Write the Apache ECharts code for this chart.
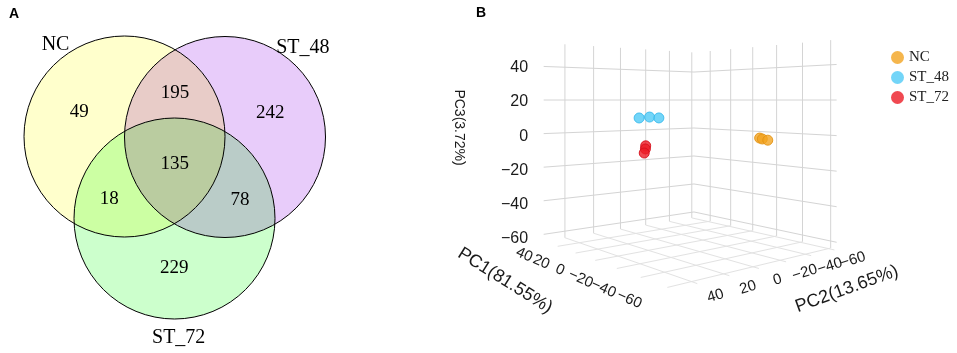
<!DOCTYPE html>
<html>
<head>
<meta charset="utf-8">
<script src="https://cdn.jsdelivr.net/npm/echarts@6/dist/echarts.min.js"></script>
<style>
  html, body { margin: 0; padding: 0; background: #fff; }
  #chart { width: 957px; height: 353px; }
</style>
</head>
<body>
<div id="chart"></div>
<script>
// ---- A: Venn ----
const vennSets = ['NC', 'ST_48', 'ST_72'];
const vennRegionSets = [[0], [1], [2], [0, 1], [0, 2], [1, 2], [0, 1, 2]];
const vennCounts = [49, 242, 229, 195, 18, 78, 135];

// ---- B: PCA scores [PC1, PC2, PC3] ----
const groupNames = ['NC', 'ST_48', 'ST_72'];
const scoresNC = [[-56, -9, 0.3], [-55.5, -11.5, -0.3], [-56.5, -14.5, -1]];
const scoresST48 = [[27.5, 6.5, 9.1], [28.5, -2, 9.5], [29, -9.5, 8.8]];
const scoresST72 = [[27, 2, -8], [28, 1.5, -10], [28.5, 2, -12.5]];
const pc1Ticks = [-60, -40, -20, 0, 20, 40];
const pc2Ticks = [-60, -40, -20, 0, 20, 40];
const pc3Ticks = [-60, -40, -20, 0, 20, 40];
const pc1Range = [-64, 57];
const pc2Range = [-62, 54];
const pc3Range = [-64, 54];
const pcTitles = ['PC1(81.55%)', 'PC2(13.65%)', 'PC3(3.72%)'];

// layout / style
const venn = {
  centers: [[124.5, 136.5], [225, 137], [174.5, 218.5]],
  r: 100.5,
  fills: ['#FFFFCC', '#E8CCFA', '#CCFFCC'],
  nameAngle: [-127, -49, 88],
  nameDist: [1.14, 1.18, 1.19],
  k: [0, 1.9, 2.6, 1]
};
const groupColor = {
  NC: ['rgba(242,164,32,0.8)', 'rgba(226,146,20,0.9)'],
  ST_48: ['rgba(80,202,246,0.8)', 'rgba(58,186,236,0.9)'],
  ST_72: ['rgba(236,28,38,0.8)', 'rgba(214,16,28,0.9)']
};
const cam = { az: 38 * Math.PI / 180, dBack: 7.39, lBack: 0.5, fx: 620, fy: 610, cx: 652, cy: 100, eyeZ: 0.424 };
const SANS = 'Liberation Sans, Arial, sans-serif';
const SERIF = 'Liberation Serif, Times New Roman, serif';

function norm(v, r) { return 2 * (v - r[0]) / (r[1] - r[0]) - 1; }
function proj(X, Y, Z) {
  const s = Math.sin(cam.az), c = Math.cos(cam.az);
  const d = cam.dBack + c * (X - 1) - s * (Y + 1);
  const l = cam.lBack - s * (X - 1) - c * (Y + 1);
  return [cam.cx + cam.fx * l / d, cam.cy - cam.fy * (Z - cam.eyeZ) / d];
}
function fmt(v) { return v < 0 ? '\u2212' + Math.abs(v) : String(v); }

// colour of an overlap = product of the set colours (like overlaid transparent sheets)
function mixFill(sets) {
  let rgb = [255, 255, 255];
  sets.forEach(i => {
    const h = venn.fills[i];
    [1, 3, 5].forEach((o, j) => { rgb[j] = rgb[j] * parseInt(h.substr(o, 2), 16) / 255; });
  });
  return 'rgb(' + rgb.map(Math.round).join(',') + ')';
}

function vennRegion(params, api) {
  const sets = vennRegionSets[params.dataIndex];
  const circ = i => {
    const c = api.coord(venn.centers[i]);
    return { cx: c[0], cy: c[1], r: api.size([venn.r, 0])[0] };
  };
  let shape = { type: 'circle', shape: circ(sets[0]), style: { fill: mixFill(sets) } };
  for (let j = 1; j < sets.length; j++) {
    shape = { type: 'group', clipPath: { type: 'circle', shape: circ(sets[j]) }, children: [shape] };
  }
  // label position: centroid of the included circles pushed away from the middle
  const g = [0, 0], m = [0, 0];
  venn.centers.forEach(c => { g[0] += c[0] / 3; g[1] += c[1] / 3; });
  sets.forEach(i => { m[0] += venn.centers[i][0] / sets.length; m[1] += venn.centers[i][1] / sets.length; });
  const k = venn.k[sets.length];
  const p = api.coord([g[0] + k * (m[0] - g[0]), g[1] + k * (m[1] - g[1])]);
  const text = {
    type: 'text', x: p[0], y: p[1], z2: 10,
    style: { text: String(api.value(0)), fontFamily: SERIF, fontSize: 19, fill: '#000', align: 'center', verticalAlign: 'middle' }
  };
  return { type: 'group', children: [shape, text] };
}

function vennOutline(params, api) {
  const i = params.dataIndex;
  const c = api.coord(venn.centers[i]);
  const a = venn.nameAngle[i] * Math.PI / 180, d = venn.nameDist[i] * venn.r;
  const p = api.coord([venn.centers[i][0] + d * Math.cos(a), venn.centers[i][1] + d * Math.sin(a)]);
  return {
    type: 'group', children: [
      { type: 'circle', shape: { cx: c[0], cy: c[1], r: api.size([venn.r, 0])[0] }, style: { fill: 'none', stroke: '#000', lineWidth: 1 } },
      { type: 'text', x: p[0], y: p[1], style: { text: vennSets[i], fontFamily: SERIF, fontSize: 20, fill: '#000', align: 'center', verticalAlign: 'middle' } }
    ]
  };
}

function frame(params, api) {
  const kids = [];
  const nX = t => norm(t, pc1Range), nY = t => norm(t, pc2Range), nZ = t => norm(t, pc3Range);
  const seg = (a, b, color) => {
    const p = api.coord(proj(a[0], a[1], a[2])), q = api.coord(proj(b[0], b[1], b[2]));
    kids.push({ type: 'line', shape: { x1: p[0], y1: p[1], x2: q[0], y2: q[1] }, style: { stroke: color, lineWidth: 1 } });
  };
  const label = (pt, text, size, rot, align, dy) => {
    const p = api.coord(proj(pt[0], pt[1], pt[2]));
    kids.push({
      type: 'text', x: p[0], y: p[1] + (dy || 0), rotation: rot,
      style: { text: text, fontFamily: SANS, fontSize: size, fill: '#1a1a1a', align: align || 'center', verticalAlign: 'middle' }
    });
  };
  const wall = '#d4d4d4', floor = '#e2e2e2';
  // left wall (PC1 = max)
  pc2Ticks.forEach(t => seg([1, nY(t), -1], [1, nY(t), 1], wall));
  pc3Ticks.forEach(t => seg([1, -1, nZ(t)], [1, 1, nZ(t)], wall));
  // right wall (PC2 = min)
  pc1Ticks.forEach(t => seg([nX(t), -1, -1], [nX(t), -1, 1], wall));
  pc3Ticks.forEach(t => seg([-1, -1, nZ(t)], [1, -1, nZ(t)], wall));
  // floor (PC3 = min)
  pc1Ticks.forEach(t => seg([nX(t), -1, -1], [nX(t), 1, -1], floor));
  pc2Ticks.forEach(t => seg([-1, nY(t), -1], [1, nY(t), -1], floor));

  // tick labels
  pc3Ticks.forEach(t => label([1, 1.17, nZ(t)], fmt(t), 16, 0, 'right', 2));
  pc1Ticks.forEach(t => label([nX(t), 1.35, -1], fmt(t), 15, -0.42, 'center', 3));
  pc2Ticks.forEach(t => label([-1.2, nY(t), -1], fmt(t), 15, 0.30, 'center', 6));
  // axis titles
  label([0, 1.87, -1], pcTitles[0], 18, -0.56, 'center', 1);
  label([-1.8, 0, -1], pcTitles[1], 18, 0.35, 'center', -1);
  label([1, 1.86, 0.17], pcTitles[2], 14, -Math.PI / 2, 'center', 0);
  return { type: 'group', children: kids };
}

function point(params, api) {
  const p = proj(norm(api.value(0), pc1Range), norm(api.value(1), pc2Range), norm(api.value(2), pc3Range));
  const c = api.coord(p);
  const col = groupColor[groupNames[params.seriesIndex - 3]];
  return { type: 'circle', shape: { cx: c[0], cy: c[1], r: 5 }, style: { fill: col[0], stroke: col[1], lineWidth: 1 } };
}

const chart = echarts.init(document.getElementById('chart'), null, { renderer: 'canvas' });
const pointSeries = [scoresNC, scoresST48, scoresST72].map((d, i) => ({
  name: groupNames[i], type: 'custom', coordinateSystem: 'cartesian2d',
  itemStyle: { color: groupColor[groupNames[i]][0] },
  renderItem: point, data: d, z: 5, silent: true
}));

chart.setOption({
  animation: false,
  backgroundColor: '#fff',
  title: [
    { text: 'A', left: 9, top: 7, padding: 0, textStyle: { fontFamily: SANS, fontSize: 14, fontWeight: 'bold', color: '#000' } },
    { text: 'B', left: 476, top: 6, padding: 0, textStyle: { fontFamily: SANS, fontSize: 14, fontWeight: 'bold', color: '#000' } }
  ],
  legend: {
    data: groupNames, orient: 'vertical', left: 886, top: 45, icon: 'circle',
    itemWidth: 13, itemHeight: 13, itemGap: 5, selectedMode: false,
    textStyle: { fontFamily: SERIF, fontSize: 15, color: '#222' }
  },
  grid: { left: 0, top: 0, width: 957, height: 353 },
  xAxis: { type: 'value', min: 0, max: 957, show: false },
  yAxis: { type: 'value', min: 0, max: 353, inverse: true, show: false },
  series: [
    { type: 'custom', name: 'vennRegions', renderItem: vennRegion, data: vennCounts.map(v => [v]), silent: true, z: 1 },
    { type: 'custom', name: 'vennSets', renderItem: vennOutline, data: vennSets.map((s, i) => [i]), silent: true, z: 3 },
    { type: 'custom', name: 'frame', renderItem: frame, data: [[0, 0]], silent: true, z: 1 }
  ].concat(pointSeries)
});
</script>
</body>
</html>
